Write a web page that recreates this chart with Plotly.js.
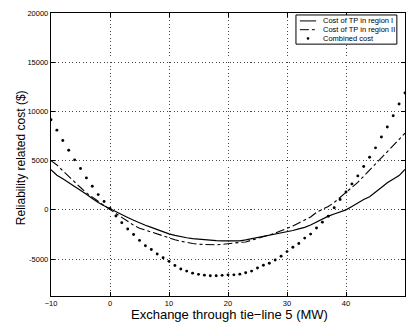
<!DOCTYPE html>
<html>
<head>
<meta charset="utf-8">
<script src="https://cdn.plot.ly/plotly-3.0.1.min.js"></script>
<style>html,body{margin:0;padding:0;background:#fff;}#chart{width:408px;height:324px;}</style>
</head>
<body>
<div id="chart"></div>
<script>
var exchangeMW = [-10,-9,-8,-7,-6,-5,-4,-3,-2,-1,0,1,2,3,4,5,6,7,8,9,10,11,12,13,14,15,16,17,18,19,20,21,22,23,24,25,26,27,28,29,30,31,32,33,34,35,36,37,38,39,40,41,42,43,44,45,46,47,48,49,50];

var costRegionI = [4080,3520,3150,2780,2410,2020,1590,1160,740,420,100,-200,-480,-780,-1060,-1330,-1560,-1780,-2000,-2250,-2440,-2590,-2730,-2830,-2920,-2990,-3050,-3100,-3130,-3150,-3170,-3170,-3150,-3050,-2930,-2860,-2760,-2640,-2510,-2380,-2250,-2100,-1930,-1780,-1540,-1220,-900,-640,-420,-200,0,350,720,1050,1330,1850,2270,2750,3100,3480,4120];

var costRegionII = [5000,4560,3970,3380,2830,2270,1730,1260,880,430,20,-400,-820,-1240,-1560,-1860,-2060,-2240,-2460,-2680,-2870,-3030,-3180,-3320,-3420,-3490,-3530,-3560,-3550,-3500,-3420,-3360,-3310,-3260,-3100,-2930,-2740,-2550,-2350,-2140,-1920,-1640,-1330,-1030,-720,-250,60,350,750,1250,1800,2330,2800,3420,4030,4630,5220,5850,6540,7150,7800];

var combinedCost = [9150,8100,7050,6050,5080,4200,3250,2400,1550,850,150,-620,-1300,-1950,-2500,-3100,-3650,-4020,-4480,-4860,-5230,-5650,-6000,-6220,-6430,-6550,-6630,-6690,-6700,-6650,-6600,-6600,-6530,-6390,-6220,-5900,-5620,-5430,-5090,-4710,-4240,-3790,-3420,-2870,-2460,-1840,-1250,-650,220,1050,1820,2640,3450,4400,5350,6300,7400,8420,9560,10750,11880];

var seriesNames = ["Cost of TP in region I", "Cost of TP in region II", "Combined cost"];
var xTicks = [-10,0,10,20,30,40,50];
var yTicks = [-5000,0,5000,10000,15000,20000];
var xTitle = 'Exchange through tie\u2212line 5 (MW)';
var yTitle = 'Reliability related cost ($)';

var fontFam = '"Liberation Sans", Arial, Helvetica, sans-serif';

var traces = [
  {x: exchangeMW, y: costRegionI, name: seriesNames[0], mode: 'lines',
   line: {color: '#000', width: 1.2}},
  {x: exchangeMW, y: costRegionII, name: seriesNames[1], mode: 'lines',
   line: {color: '#000', width: 1.1, dash: 'dashdot'}},
  {x: exchangeMW, y: combinedCost, name: seriesNames[2], mode: 'markers',
   marker: {color: '#000', size: 2.9}}
];

var axisCommon = {
  showline: true, linecolor: '#000', linewidth: 1.2, mirror: 'ticks',
  ticks: 'inside', ticklen: 4, tickcolor: '#000', tickwidth: 1,
  showgrid: true, gridcolor: '#333', gridwidth: 0.9, griddash: '1px,2.5px',
  zeroline: false, tickfont: {family: fontFam, size: 7.5, color: '#000'}
};

var lx0 = 0.692, lx1 = 0.977, ly0 = 0.890, ly1 = 0.993;
var rows = [0.972, 0.941, 0.910];
var sx0 = 0.703, sx1 = 0.749, tx = 0.763;

var shapes = [
  {type: 'rect', xref: 'paper', yref: 'paper', x0: lx0, x1: lx1, y0: ly0, y1: ly1,
   line: {color: '#000', width: 1}, fillcolor: '#fff', layer: 'above'},
  {type: 'line', xref: 'paper', yref: 'paper', x0: sx0, x1: sx1, y0: rows[0], y1: rows[0],
   line: {color: '#000', width: 1}, layer: 'above'},
  {type: 'line', xref: 'paper', yref: 'paper', x0: sx0, x1: sx1, y0: rows[1], y1: rows[1],
   line: {color: '#000', width: 1, dash: 'dashdot'}, layer: 'above'},
  {type: 'circle', xref: 'paper', yref: 'paper', x0: (sx0+sx1)/2-0.003, x1: (sx0+sx1)/2+0.003,
   y0: rows[2]-0.004, y1: rows[2]+0.004, fillcolor: '#000', line: {color: '#000', width: 0.5}, layer: 'above'}
];

var annotations = seriesNames.map(function(n, i){
  return {xref: 'paper', yref: 'paper', x: tx, y: rows[i], xanchor: 'left', yanchor: 'middle',
          text: n, showarrow: false, font: {family: fontFam, size: 7.5, color: '#000'}};
});
annotations.push({xref: 'paper', yref: 'paper', x: 0.505, y: -0.066, xanchor: 'center', yanchor: 'middle',
  text: xTitle, showarrow: false, font: {family: fontFam, size: 13, color: '#000'}});
annotations.push({xref: 'paper', yref: 'paper', x: -0.086, y: 0.489, xanchor: 'center', yanchor: 'middle',
  text: yTitle, textangle: -90, showarrow: false, font: {family: fontFam, size: 12, color: '#000'}});

var layout = {
  width: 408, height: 324,
  margin: {l: 51, r: 3, t: 13, b: 28, pad: 0},
  paper_bgcolor: '#fff', plot_bgcolor: '#fff',
  showlegend: false,
  font: {family: fontFam, color: '#000'},
  xaxis: Object.assign({}, axisCommon, {
    range: [-10, 50], tickvals: xTicks, ticktext: xTicks.map(function(v){return v < 0 ? '\u2212' + Math.abs(v) : String(v);})
  }),
  yaxis: Object.assign({}, axisCommon, {
    range: [-8750, 20000], tickvals: yTicks, ticktext: yTicks.map(function(v){return v < 0 ? '-' + Math.abs(v) : String(v);})
  }),
  shapes: shapes,
  annotations: annotations
};

Plotly.newPlot('chart', traces, layout, {displayModeBar: false, staticPlot: true});
</script>
</body>
</html>
